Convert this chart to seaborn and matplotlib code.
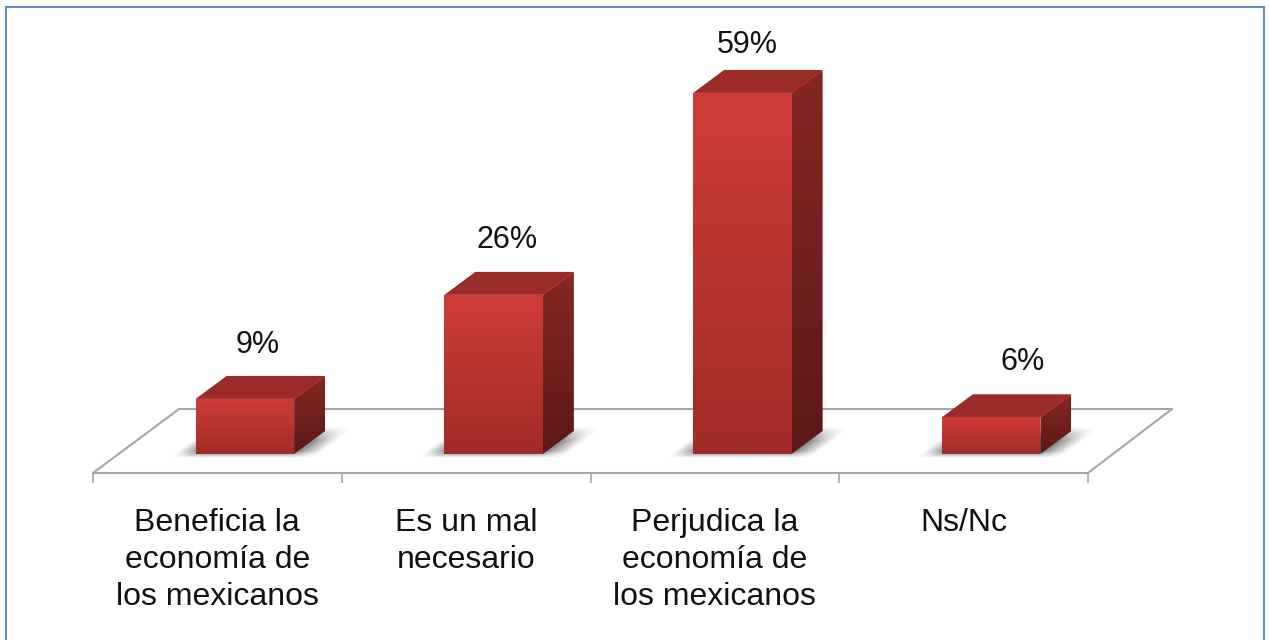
import numpy as np
import matplotlib
matplotlib.use('Agg')
import matplotlib.pyplot as plt
import seaborn as sns
from matplotlib.lines import Line2D
from matplotlib.patches import Polygon, Rectangle
from matplotlib.transforms import Affine2D, IdentityTransform

categories = ['Beneficia la\neconomía de\nlos mexicanos', 'Es un mal\nnecesario',
              'Perjudica la\neconomía de\nlos mexicanos', 'Ns/Nc']
values = [9, 26, 59, 6]
value_labels = ['9%', '26%', '59%', '6%']

# where each value label sits, in pixels from the axis position of its bar
label_dx = [40, 41, 32, 59]
label_dy = [73, 74, 67, 74]

W, H = 1269, 640
DEPTH_X, DEPTH_Y = 31, 23   # 3d depth of the boxes
SHIFT_X, SHIFT_Y = 27.5, 19  # boxes stand in the middle of the floor
GREY = '#a6a6a6'

sns.set_style('white')
plt.rcParams['font.family'] = ['Liberation Sans', 'DejaVu Sans']

fig = plt.figure(figsize=(W / 100, H / 100), dpi=100)
ax = fig.add_axes([93 / W, (H - 473) / H, 995 / W, 428.4 / H])
ax.patch.set_alpha(0)

sns.barplot(x=categories, y=values, color='#b83430', width=0.396, saturation=1,
            linewidth=0, ax=ax)
ax.set_xlim(-0.5, 3.5)
ax.set_ylim(0, 70)


def vgrad(top_col, bot_col, n=64):
    top = np.array(matplotlib.colors.to_rgb(top_col))
    bot = np.array(matplotlib.colors.to_rgb(bot_col))
    t = np.linspace(0, 1, n)[:, None]
    return (top * (1 - t) + bot * t)[:, None, :]


def fill_gradient(poly_pts, top_col, bot_col, z):
    # polygon in pixels, filled with a vertical gradient
    pts = np.array(poly_pts)
    clip = Polygon(pts, closed=True, transform=IdentityTransform(), fc='none', ec='none')
    ax.add_patch(clip)
    im = ax.imshow(vgrad(top_col, bot_col), aspect='auto', interpolation='bilinear',
                   extent=(pts[:, 0].min(), pts[:, 0].max(), pts[:, 1].min(), pts[:, 1].max()),
                   transform=IdentityTransform(), zorder=z, clip_on=True)
    im.set_clip_path(clip)


def soft_shadow(x0, x1, y0, z):
    # blurred floor shadow, sheared along the depth direction
    xs = np.arange(x0 - 30, x1 + DEPTH_X + 40)
    ys = np.arange(y0 - 5, y0 + DEPTH_Y + 6)
    xx, yy = np.meshgrid(xs + 0.5, ys + 0.5)
    v = yy - y0
    u = xx - v * DEPTH_X / DEPTH_Y
    a_x = np.clip((u - (x0 - 22)) / 22, 0, 1) * np.clip(((x1 + 24) - u) / 24, 0, 1)
    a_y = np.clip((v + 4) / 7, 0, 1) * np.clip((DEPTH_Y + 4 - v) / 14, 0, 1)
    rgba = np.zeros(xx.shape + (4,))
    rgba[..., :3] = 0.35
    rgba[..., 3] = 0.72 * a_x * a_y
    ax.imshow(rgba, origin='lower', aspect='auto', interpolation='bilinear',
              extent=(xs[0], xs[-1] + 1, ys[0], ys[-1] + 1),
              transform=IdentityTransform(), zorder=z, clip_on=False)


# floor outline
back_y = H - 409
front_y = H - 473
for xa, ya, xb, yb in [(93, front_y, 179, back_y), (179, back_y, 1172, back_y),
                       (1172, back_y, 1088, front_y)]:
    ax.add_line(Line2D([xa, xb], [ya, yb], color=GREY, lw=1.5,
                       transform=IdentityTransform(), clip_on=False, zorder=1))

fig.canvas.draw()
shift = Affine2D().translate(SHIFT_X, SHIFT_Y)
for i, bar in enumerate(ax.patches[:len(values)]):
    bar.set_transform(ax.transData + shift)
    bar.set_clip_on(False)
    bar.set_zorder(4)
    (x0, y0), (x1, y1) = (ax.transData + shift).transform(
        [(bar.get_x(), 0), (bar.get_x() + bar.get_width(), bar.get_height())])
    soft_shadow(x0, x1, y0, 2)

    # front face gets darker towards the floor, side face too
    front = [(x0, y0), (x1, y0), (x1, y1), (x0, y1)]
    fill_gradient(front, '#d03c38', '#a02c28', 5)
    side = [(x1, y0), (x1 + DEPTH_X, y0 + DEPTH_Y), (x1 + DEPTH_X, y1 + DEPTH_Y), (x1, y1)]
    fill_gradient(side, '#862623', '#5c1917', 5)
    top = [(x0, y1), (x1, y1), (x1 + DEPTH_X, y1 + DEPTH_Y), (x0 + DEPTH_X, y1 + DEPTH_Y)]
    ax.add_patch(Polygon(top, closed=True, transform=IdentityTransform(), fc='#9a2b28',
                         ec='none', clip_on=False, zorder=5))
    # lighter ridge between top and side
    ax.add_line(Line2D([x1 + 1, x1 + DEPTH_X - 1], [y1 + 1, y1 + DEPTH_Y - 1], color='#a8312e',
                       lw=1.2, solid_capstyle='butt',
                       transform=IdentityTransform(), clip_on=False, zorder=6))

    ax.annotate(value_labels[i], xy=(i, values[i]), xytext=(label_dx[i], label_dy[i]),
                textcoords='offset pixels', ha='center', va='center', fontsize=22,
                color='#111111', annotation_clip=False, zorder=7)

# imshow touches the limits
ax.set_xlim(-0.5, 3.5)
ax.set_ylim(0, 70)

# floor front edge and tick marks between the categories
for name, spine in ax.spines.items():
    spine.set_visible(name == 'bottom')
ax.spines['bottom'].set_color(GREY)
ax.spines['bottom'].set_linewidth(1.5)
ax.set_yticks([])
ax.set_xticks(range(len(categories)))
ax.set_xticklabels(categories, fontsize=23, color='#111111', linespacing=1.3)
ax.set_xticks(np.arange(-0.5, 4), minor=True)
ax.tick_params(axis='x', which='major', length=0, pad=25, bottom=True)
ax.tick_params(axis='x', which='minor', length=7.5, width=1.2, color=GREY, bottom=True)
for lab in ax.get_xticklabels():
    lab.set_verticalalignment('top')

# blue frame of the picture
fig.add_artist(Rectangle((6.5 / W, -5 / H), (1264 - 6.5) / W, (H - 6.5 + 5) / H,
                         transform=fig.transFigure, fc='none', ec='#5b8bc9', lw=1.4))

fig.savefig('out.png', dpi=100)
